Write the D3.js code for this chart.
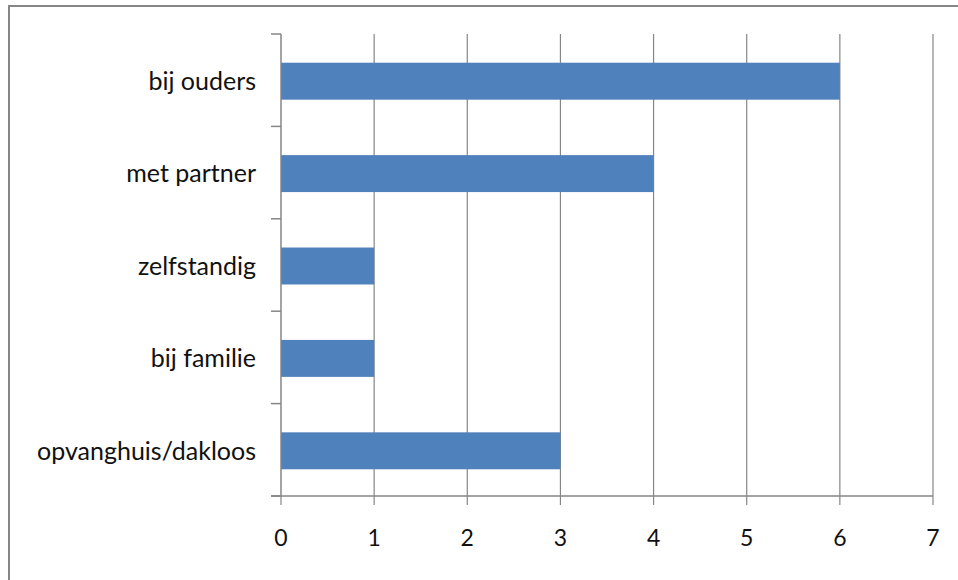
<!DOCTYPE html>
<html>
<head>
<meta charset="utf-8">
<script src="https://cdn.jsdelivr.net/npm/d3@7"></script>
<style>
  html, body { margin: 0; padding: 0; background: #fff; }
  svg { display: block; }
</style>
</head>
<body>
<div id="chart"></div>
<script>
// Woonsituatie - horizontal bar chart
const categories = ['bij ouders', 'met partner', 'zelfstandig', 'bij familie', 'opvanghuis/dakloos'];
const values = [6, 4, 1, 1, 3];
const xTicks = [0, 1, 2, 3, 4, 5, 6, 7];

const width = 958;
const height = 580;
const margin = { top: 34, right: 25, bottom: 84, left: 281 };
const gray = '#868686';
const font = 'Lato, "Open Sans", sans-serif';

const svg = d3.select('#chart')
  .append('svg')
  .attr('width', width)
  .attr('height', height);

// outer frame (runs off the right and bottom edges)
svg.append('rect')
  .attr('x', 9)
  .attr('y', 6)
  .attr('width', width + 20)
  .attr('height', height + 20)
  .attr('fill', 'none')
  .attr('stroke', gray)
  .attr('stroke-width', 2);

const x = d3.scaleLinear()
  .domain([0, 7])
  .range([margin.left, width - margin.right]);

const y = d3.scaleBand()
  .domain(categories)
  .range([margin.top, height - margin.bottom])
  .paddingInner(0.6)
  .paddingOuter(0.3);

// band edges for category tick marks
const step = y.step();
const bandTop = margin.top;
const bandBottom = height - margin.bottom;

// vertical gridlines
svg.append('g')
  .selectAll('line')
  .data(xTicks.slice(1))
  .enter()
  .append('line')
  .attr('x1', d => x(d))
  .attr('x2', d => x(d))
  .attr('y1', bandTop)
  .attr('y2', bandBottom)
  .attr('stroke', gray)
  .attr('stroke-width', 1.2);

// bars
svg.selectAll('.bar')
  .data(categories)
  .enter()
  .append('rect')
  .attr('class', 'bar')
  .attr('x', x(0))
  .attr('y', d => y(d) + 1)
  .attr('width', (d, i) => x(values[i]) - x(0))
  .attr('height', y.bandwidth())
  .attr('fill', '#4F81BD');

// y axis line and category ticks
svg.append('line')
  .attr('x1', x(0)).attr('x2', x(0))
  .attr('y1', bandTop).attr('y2', bandBottom)
  .attr('stroke', gray).attr('stroke-width', 1.5);

svg.append('g')
  .selectAll('line')
  .data(d3.range(categories.length + 1))
  .enter()
  .append('line')
  .attr('x1', x(0) - 10)
  .attr('x2', x(0))
  .attr('y1', i => bandTop + i * step)
  .attr('y2', i => bandTop + i * step)
  .attr('stroke', gray)
  .attr('stroke-width', 1.5);

// x axis line and ticks
svg.append('line')
  .attr('x1', x(0) - 10).attr('x2', x(7))
  .attr('y1', bandBottom).attr('y2', bandBottom)
  .attr('stroke', gray).attr('stroke-width', 1.5);

svg.append('g')
  .selectAll('line')
  .data(xTicks)
  .enter()
  .append('line')
  .attr('x1', d => x(d))
  .attr('x2', d => x(d))
  .attr('y1', bandBottom)
  .attr('y2', bandBottom + 9)
  .attr('stroke', gray)
  .attr('stroke-width', 1.2);

// x tick labels
svg.append('g')
  .selectAll('text')
  .data(xTicks)
  .enter()
  .append('text')
  .attr('x', d => x(d))
  .attr('y', bandBottom + 50)
  .attr('text-anchor', 'middle')
  .attr('font-family', font)
  .attr('font-size', '23px')
  .attr('fill', '#111')
  .text(d => d);

// category labels
svg.append('g')
  .selectAll('text')
  .data(categories)
  .enter()
  .append('text')
  .attr('x', 256)
  .attr('y', d => y(d) + y.bandwidth() / 2 + 1)
  .attr('dy', '0.35em')
  .attr('text-anchor', 'end')
  .attr('font-family', font)
  .attr('font-size', '25px')
  .attr('fill', '#111')
  .text(d => d);
</script>
</body>
</html>
